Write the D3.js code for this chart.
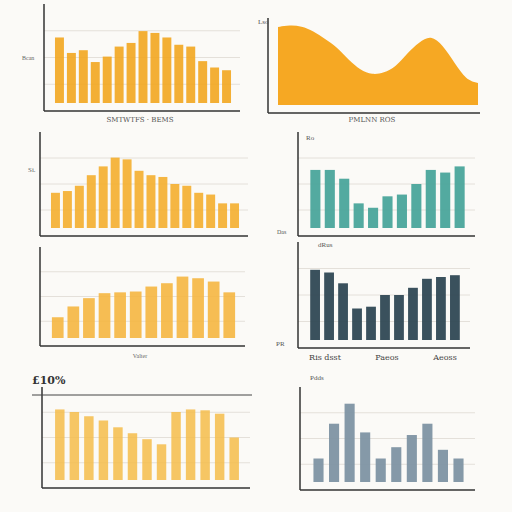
<!DOCTYPE html><html><head><meta charset="utf-8"><script src="https://cdn.jsdelivr.net/npm/d3@7"></script>
<style>body{margin:0;background:#fbfaf7}</style></head><body><svg id="c" width="512" height="512"></svg>
<script>
const bars1=[72,55,58,45,51,62,66,79,77,72,64,62,46,39,36];
const area2=[78,80,79,74,66,58,45,35,30,32,38,52,63,70,60,42,25,22];
const bars3=[40,42,48,60,70,80,78,65,60,58,50,48,40,38,28,28];
const bars4=[66,66,56,28,23,36,38,50,66,63,70];
const bars5=[25,38,48,54,55,56,62,66,74,72,68,55];
const bars6=[78,75,63,35,37,50,50,58,68,70,72];
const bars7=[83,80,75,70,62,55,48,42,80,83,82,78,50];
const bars8=[27,67,90,57,27,40,54,67,37,27];
const labels=["SMTWTFS","EMBS","£10%","Ma","Po","Fluets","Phos","Buts"];
const svg=d3.select("#c");
function axes(x0,x1,y0,y1,col,grid){
  if(grid) for(let g=1;g<=3;g++) svg.append("line").attr("x1",x0).attr("x2",x1).attr("y1",y1-(y1-y0)*g/4).attr("y2",y1-(y1-y0)*g/4).attr("stroke","#e4e0da");
  svg.append("line").attr("x1",x0).attr("x2",x0).attr("y1",y0).attr("y2",y1).attr("stroke","#333").attr("stroke-width",1.5);
  svg.append("line").attr("x1",x0).attr("x2",x1).attr("y1",y1).attr("y2",y1).attr("stroke","#333").attr("stroke-width",1.5);
}
function barChart(data,x0,x1,y0,y1,col,op,pad){
  axes(x0,x1,y0-8,y1+8,col,true);
  const x=d3.scaleBand().domain(d3.range(data.length)).range([x0+8,x1-6]).padding(pad);
  const y=d3.scaleLinear().domain([0,100]).range([y1,y0]);
  svg.selectAll(null).data(data).enter().append("rect").attr("x",(d,i)=>x(i)).attr("width",x.bandwidth())
    .attr("y",d=>y(d)).attr("height",d=>y1-y(d)).attr("fill",col).attr("opacity",op);
}
barChart(bars1,44,240,12,103,"#f2a61f",0.9,0.25);
svg.append("text").attr("x",140).attr("y",122).attr("font-size",7).attr("text-anchor","middle").attr("fill","#555").attr("font-family","DejaVu Serif").text("SMTWTFS  ·  BEMS");
svg.append("text").attr("x",22).attr("y",60).attr("font-size",6).attr("fill","#666").text("Bcan");
// area
axes(268,480,18,113,null,false);
{const x=d3.scaleLinear().domain([0,area2.length-1]).range([278,478]);const y=d3.scaleLinear().domain([0,100]).range([105,5]);
svg.append("path").datum(area2).attr("d",d3.area().x((d,i)=>x(i)).y0(105).y1(d=>y(d)).curve(d3.curveBasis)).attr("fill","#f6a823");}
svg.append("text").attr("x",372).attr("y",122).attr("font-size",7).attr("text-anchor","middle").attr("fill","#555").attr("font-family","DejaVu Serif").text("PMLNN ROS");
svg.append("text").attr("x",258).attr("y",24).attr("font-size",7).attr("fill","#555").text("Lso");
barChart(bars3,40,248,140,228,"#f4ae2e",0.9,0.25);
svg.append("text").attr("x",28).attr("y",172).attr("font-size",7).attr("fill","#666").text("Si.");
barChart(bars4,298,475,140,228,"#4aa59b",0.95,0.3);
svg.append("text").attr("x",306).attr("y",140).attr("font-size",7).attr("fill","#555").text("Ro");
svg.append("text").attr("x",277).attr("y",234).attr("font-size",6).attr("fill","#555").text("Das");
barChart(bars5,40,245,255,338,"#f5b640",0.9,0.25);
svg.append("text").attr("x",140).attr("y",358).attr("font-size",6).attr("text-anchor","middle").attr("fill","#666").text("Valter");
barChart(bars6,298,470,250,340,"#2f4854",0.95,0.3);
svg.append("text").attr("x",318).attr("y",247).attr("font-size",7).attr("fill","#555").text("dRus");
[["Ris dsst",325],["Paeos",387],["Aeoss",445]].forEach(t=>svg.append("text").attr("x",t[1]).attr("y",360).attr("font-size",8).attr("text-anchor","middle").attr("fill","#444").attr("font-family","DejaVu Serif").text(t[0]));
svg.append("text").attr("x",276).attr("y",346).attr("font-size",7).attr("fill","#555").text("PR");
barChart(bars7,42,250,395,480,"#f5bc4a",0.85,0.35);
svg.append("line").attr("x1",32).attr("x2",252).attr("y1",395).attr("y2",395).attr("stroke","#444");
svg.append("text").attr("x",32).attr("y",384).attr("font-size",11).attr("font-weight","bold").attr("fill","#333").attr("font-family","DejaVu Serif").text("£10%");
barChart(bars8,300,475,395,482,"#7e93a3",0.95,0.35);
svg.append("text").attr("x",310).attr("y",380).attr("font-size",7).attr("fill","#555").text("Pdds");
</script></body></html>
